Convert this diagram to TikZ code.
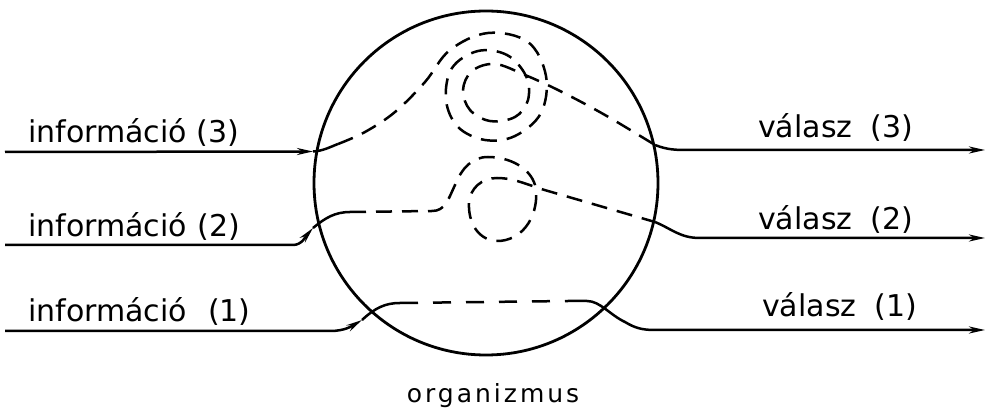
\documentclass[tikz,border=0pt]{standalone}
\usepackage{fontspec}
\setmainfont{DejaVu Sans}
\newfontfamily\orgfont[LetterSpace=12]{DejaVu Sans}
\usetikzlibrary{arrows.meta}
\begin{document}
\begin{tikzpicture}[x=1pt,y=-1pt,
  solidline/.style={line width=2.5pt},
  dashline/.style={line width=2.5pt, dash pattern=on 16pt off 10pt},
  tipend/.style={-{Stealth[length=16pt,width=7pt]}},
  lab/.style={font=\fontsize{30}{36}\selectfont, inner sep=0pt, anchor=base west}]
\useasboundingbox (0,0) rectangle (986,411);

% organism
\node[circle, draw, line width=2.8pt, minimum size=344pt, inner sep=0pt] (org) at (486,183) {};
\node[font=\orgfont\fontsize{25}{30}\selectfont, inner sep=0pt, anchor=base] (orgl) at (493,403) {organizmus};

% labels
\node[lab] (i3) at (28,143) {információ (3)};
\node[lab] (i2) at (28,237) {információ\hspace{0.35em}(2)};
\node[lab] (i1) at (28,322) {információ\hspace{0.7em}(1)};
\node[lab] (v3) at (758,138) {válasz\hspace{0.6em}(3)};
\node[lab] (v2) at (758,230) {válasz\hspace{0.6em}(2)};
\node[lab] (v1) at (762,317) {válasz\hspace{0.6em}(1)};

% coordinates
\coordinate (s3) at (5,152);   \coordinate (a3) at (313,151.5);
\coordinate (s2) at (5,245);   \coordinate (a2) at (313,228);
\coordinate (s1) at (5,331);   \coordinate (a1) at (362,320);
\coordinate (d3) at (338,144); \coordinate (x3) at (655,145); \coordinate (e3) at (985,150);
\coordinate (d2) at (350,212); \coordinate (x2) at (655,222); \coordinate (e2) at (985,238);
\coordinate (d1) at (400,303); \coordinate (x1) at (568,301); \coordinate (e1) at (985,330);

% channel 3
\draw[solidline,tipend] (s3) -- (a3);
\draw[solidline] (a3) .. controls (323,151) and (330,147) .. (d3);
\draw[dashline] plot[smooth, tension=0.6] coordinates {(338,144) (365,132) (395,112) (425,82) (450,50) (488,33) (528,42) (546,76) (541,113) (515,136) (485,140) (458,127) (446,100) (452,68) (478,51) (507,55) (526,76) (528,100) (515,117) (490,121) (470,110) (463,90) (472,71) (495,64) (525,75) (560,91) (605,115) (655,145)};
\draw[solidline,tipend] (x3) .. controls (668,150) and (676,150) .. (690,150) -- (e3);

% channel 2
\draw[solidline,tipend] (s2) -- (293,245) .. controls (302,245) and (306,236) .. (a2);
\draw[solidline] (a2) .. controls (325,218) and (335,212) .. (d2);
\draw[dashline] (d2) -- (432,211) .. controls (445,211) and (448,200) .. (455,185)
  .. controls (462,168) and (472,157) .. (488,157) .. controls (510,157) and (530,168) .. (535,185)
  .. controls (540,205) and (530,238) .. (500,241) .. controls (478,242) and (468,222) .. (469,203)
  .. controls (470,188) and (482,178) .. (497,178) .. controls (515,178) and (530,186) .. (548,191) -- (x2);
\draw[solidline,tipend] (x2) .. controls (672,229) and (680,238) .. (700,238) -- (e2);

% channel 1
\draw[solidline,tipend] (s1) -- (330,331) .. controls (345,331) and (352,326) .. (a1);
\draw[solidline] (a1) .. controls (375,308) and (385,303) .. (d1);
\draw[line width=2.5pt, dash pattern=on 18pt off 15pt] (d1) -- (x1);
\draw[solidline,tipend] (x1) -- (587,301) .. controls (600,301) and (610,315) .. (625,322)
  .. controls (635,328) and (642,330) .. (655,330) -- (e1);
\end{tikzpicture}
\end{document}
